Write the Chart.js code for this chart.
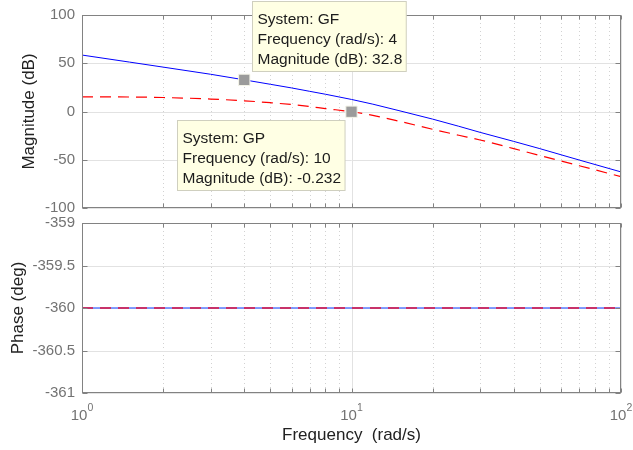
<!DOCTYPE html>
<html>
<head>
<meta charset="utf-8">
<script src="https://cdn.jsdelivr.net/npm/chart.js@4.4.1/dist/chart.umd.min.js"></script>
<style>
  html, body { margin: 0; padding: 0; background: #fff; }
  #wrap { position: relative; width: 633px; height: 450px; }
  .pane { position: absolute; left: 0; width: 633px; }
  #top { top: 0; height: 215px; }
  #bot { top: 215px; height: 235px; }
</style>
</head>
<body>
<div id="wrap">
  <div class="pane" id="top"><canvas id="magChart"></canvas></div>
  <div class="pane" id="bot"><canvas id="phaseChart"></canvas></div>
</div>
<script>
// values
const freq = [1, 1.5, 2, 3, 4, 5, 6, 7, 8, 10, 12, 15, 20, 25, 30, 40, 50, 70, 100];
const magGF = [58.5, 51.2, 46.0, 38.6, 32.8, 28.2, 24.4, 20.9, 17.9, 12.5, 7.6, 0.9, -7.9, -15.3, -21.6, -31.0, -38.5, -50.3, -62.6];
const magGP = [15.2, 15.0, 14.5, 12.9, 11.1, 9.1, 7.2, 5.1, 3.0, -0.23, -4.0, -10.0, -18.4, -24.6, -29.5, -38.5, -45.6, -56.2, -67.5];

const phaseFreq = [1, 100];
const phaseGF = [-360, -360];
const phaseGP = [-360, -360];

// data tips
const tipNames = ['GF', 'GP'];
const tipFreq = [4, 10];
const tipMag = [32.8, -0.232];

const majorX = [1, 10, 100];
const minorX = [2, 3, 4, 5, 6, 7, 8, 9, 20, 30, 40, 50, 60, 70, 80, 90];

const FONT = "'Liberation Sans', Arial, Helvetica, sans-serif";
const TICK_COLOR = '#737373';
const FRAME_COLOR = '#828282';

const pts = (xs, ys) => xs.map((x, i) => ({ x: x, y: ys[i] }));

// grid, box and inward ticks like the matlab axes
const axesPlugin = {
  id: 'matlabAxes',
  beforeDatasetsDraw(chart) {
    const { ctx, chartArea: a, scales: { x, y } } = chart;
    const vline = (v) => {
      const px = Math.round(x.getPixelForValue(v)) + 0.5;
      ctx.beginPath(); ctx.moveTo(px, a.top); ctx.lineTo(px, a.bottom); ctx.stroke();
    };
    ctx.save();
    ctx.lineWidth = 1;
    ctx.strokeStyle = '#d2d2d2';
    ctx.setLineDash([1, 3]);
    minorX.forEach(vline);
    ctx.setLineDash([]);
    ctx.strokeStyle = '#e2e2e2';
    majorX.forEach(vline);
    y.ticks.forEach(t => {
      const py = Math.round(y.getPixelForValue(t.value)) + 0.5;
      ctx.beginPath(); ctx.moveTo(a.left, py); ctx.lineTo(a.right, py); ctx.stroke();
    });
    ctx.restore();
  },
  afterDatasetsDraw(chart) {
    const { ctx, chartArea: a, scales: { x, y } } = chart;
    ctx.save();
    ctx.strokeStyle = FRAME_COLOR;
    ctx.lineWidth = 1;
    const l = Math.round(a.left) + 0.5, r = Math.round(a.right) - 0.5;
    const t = Math.round(a.top) + 0.5, b = Math.round(a.bottom) - 0.5;
    ctx.strokeRect(l, t, r - l, b - t);
    ctx.beginPath();
    majorX.concat(minorX).forEach(v => {
      const px = Math.round(x.getPixelForValue(v)) + 0.5;
      ctx.moveTo(px, t); ctx.lineTo(px, t + 4);
      ctx.moveTo(px, b); ctx.lineTo(px, b - 4);
    });
    y.ticks.forEach(tk => {
      const py = Math.round(y.getPixelForValue(tk.value)) + 0.5;
      ctx.moveTo(l, py); ctx.lineTo(l + 5, py);
      ctx.moveTo(r, py); ctx.lineTo(r - 5, py);
    });
    ctx.stroke();
    ctx.restore();
  }
};

// yellow data tip boxes next to the markers
const tipPlugin = {
  id: 'dataTips',
  afterDraw(chart) {
    const { ctx, scales: { x, y } } = chart;
    ctx.save();
    ctx.font = '15.5px ' + FONT;
    tipNames.forEach((name, i) => {
      const lines = [
        'System: ' + name,
        'Frequency (rad/s): ' + tipFreq[i],
        'Magnitude (dB): ' + tipMag[i]
      ];
      const w = Math.max(...lines.map(s => ctx.measureText(s).width)) + 9;
      const h = 70;
      const mx = x.getPixelForValue(tipFreq[i]);
      const my = y.getPixelForValue(tipMag[i]);
      let bx, by;
      if (i === 0) { bx = mx + 8; by = my - 9 - h; }
      else { bx = mx - 7 - w; by = my + 8; }
      bx = Math.round(bx) + 0.5; by = Math.round(by) + 0.5;
      ctx.fillStyle = '#ffffe4';
      ctx.strokeStyle = '#cfcfbf';
      ctx.lineWidth = 1;
      ctx.fillRect(bx, by, w, h);
      ctx.strokeRect(bx, by, w, h);
      ctx.fillStyle = '#1c1c1c';
      ctx.textBaseline = 'alphabetic';
      lines.forEach((s, k) => ctx.fillText(s, bx + 5, by + 22 + k * 20));
    });
    ctx.restore();
  }
};

// 10^n labels under the lower axes
const decadePlugin = {
  id: 'decadeLabels',
  afterDraw(chart) {
    const { ctx, scales: { x } } = chart;
    ctx.save();
    ctx.fillStyle = TICK_COLOR;
    ctx.textBaseline = 'alphabetic';
    majorX.forEach(v => {
      const px = x.getPixelForValue(v);
      const base = '10', sup = String(Math.round(Math.log10(v)));
      ctx.font = '15px ' + FONT;
      const wb = ctx.measureText(base).width;
      ctx.font = '10.5px ' + FONT;
      const ws = ctx.measureText(sup).width;
      const left = px - (wb + ws) / 2;
      ctx.font = '15px ' + FONT;
      ctx.fillText(base, left, 205);
      ctx.font = '10.5px ' + FONT;
      ctx.fillText(sup, left + wb, 196);
    });
    ctx.restore();
  }
};

const xScale = (h) => ({
  type: 'logarithmic',
  min: 1,
  max: 100,
  grid: { display: false, drawTicks: false },
  border: { display: false },
  ticks: { display: false },
  afterFit: (s) => {
    s.height = h;
    s.paddingLeft = 0; s.paddingRight = 0;
  }
});

const yScale = (min, max, step, title, titlePad) => ({
  min: min,
  max: max,
  grid: { display: false, drawTicks: false },
  border: { display: false },
  ticks: {
    stepSize: step,
    padding: 7,
    color: TICK_COLOR,
    font: { family: FONT, size: 15 },
    callback: (v) => String(Math.round(v * 10) / 10)
  },
  title: {
    display: true,
    text: title,
    color: '#222222',
    font: { family: FONT, size: 17 },
    padding: { top: titlePad, bottom: 0 }
  },
  afterFit: (s) => {
    s.width = 82;
    s.paddingTop = 0; s.paddingBottom = 0;
  }
});

const common = {
  responsive: true,
  maintainAspectRatio: false,
  animation: false,
  events: [],
  plugins: { legend: { display: false }, tooltip: { enabled: false } }
};

new Chart(document.getElementById('magChart'), {
  type: 'line',
  data: {
    datasets: [
      {
        label: 'tips',
        data: pts(tipFreq, tipMag),
        showLine: false,
        pointStyle: 'rect',
        pointRadius: 8,
        pointBackgroundColor: '#9b9b9b',
        pointBorderColor: '#f4f4e8',
        pointBorderWidth: 1
      },
      {
        label: 'GP',
        data: pts(freq, magGP),
        borderColor: '#ff0000',
        borderWidth: 1.2,
        borderDash: [11, 7],
        pointRadius: 0,
        cubicInterpolationMode: 'monotone'
      },
      {
        label: 'GF',
        data: pts(freq, magGF),
        borderColor: '#0000ff',
        borderWidth: 1,
        pointRadius: 0,
        cubicInterpolationMode: 'monotone'
      }
    ]
  },
  options: {
    ...common,
    layout: { autoPadding: false, padding: { top: 15, right: 12, bottom: 0, left: 0 } },
    scales: {
      x: xScale(7),
      y: yScale(-100, 100, 50, 'Magnitude (dB)', 19)
    }
  },
  plugins: [axesPlugin, tipPlugin]
});

const phaseXScale = xScale(57);
phaseXScale.title = {
  display: true,
  text: 'Frequency  (rad/s)',
  color: '#222222',
  font: { family: FONT, size: 17 },
  padding: { top: 0, bottom: 4 }
};

new Chart(document.getElementById('phaseChart'), {
  type: 'line',
  data: {
    datasets: [
      {
        label: 'GP',
        data: pts(phaseFreq, phaseGP),
        borderColor: '#e0103a',
        borderWidth: 1.5,
        borderDash: [11, 7],
        pointRadius: 0
      },
      {
        label: 'GF',
        data: pts(phaseFreq, phaseGF),
        borderColor: '#5a7cff',
        borderWidth: 1.5,
        pointRadius: 0
      }
    ]
  },
  options: {
    ...common,
    layout: { autoPadding: false, padding: { top: 8, right: 12, bottom: 0, left: 0 } },
    scales: {
      x: phaseXScale,
      y: yScale(-361, -359, 0.5, 'Phase (deg)', 8)
    }
  },
  plugins: [axesPlugin, decadePlugin]
});
</script>
</body>
</html>
